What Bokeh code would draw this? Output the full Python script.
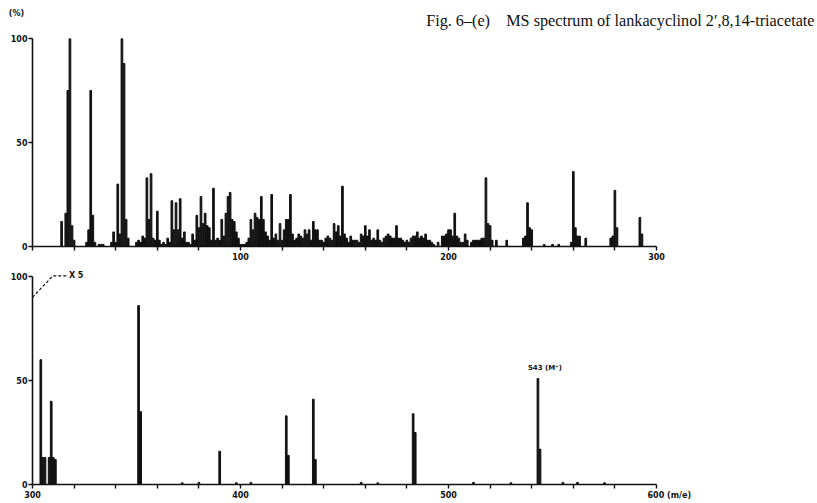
from bokeh.plotting import figure
from bokeh.layouts import column
from bokeh.models import FixedTicker, Label, Range1d
from bokeh.embed import file_html
from bokeh.resources import INLINE

# Low-mass range, m/z 0-300 (relative abundance, %)
low_mz = [14, 16, 17, 18, 19, 20, 26, 27, 28, 29, 30, 32, 33, 34,
          38, 39, 40, 41, 42, 43, 44, 45, 46,
          50, 51, 52, 53, 54, 55, 56, 57, 58, 59, 60, 61, 62, 63, 64, 65, 66,
          67, 68, 69, 70, 71, 72, 73, 74, 75, 76, 77, 78, 79, 80, 81, 82, 83,
          84, 85, 86, 87, 88, 89, 90, 91, 92, 93, 94, 95, 96, 97, 98, 99,
          100, 101, 102, 103, 104, 105, 106, 107, 108, 109, 110, 111, 112,
          113, 114, 115, 116, 117, 118, 119, 120, 121, 122, 123, 124, 125,
          126, 127, 128, 129, 130, 131, 132, 133, 134, 135, 136, 137, 138,
          139, 140, 141, 142, 143, 144, 145, 146, 147, 148, 149, 150, 151,
          152, 153, 154, 155, 156, 157, 158, 159, 160, 161, 162, 163, 164,
          165, 166, 167, 168, 169, 170, 171, 172, 173, 174, 175, 176, 177,
          178, 179, 180, 181, 182, 183, 184, 185, 186, 187, 188, 189, 190,
          191, 192, 193, 195, 197, 198, 199, 200, 201, 202, 203, 204, 205,
          206, 207, 208, 209, 211, 212, 213, 214, 215, 216, 217, 218, 219,
          220, 221, 223, 228, 236, 237, 238, 239, 240, 246, 250, 253,
          259, 260, 261, 262, 263, 266, 278, 279, 280, 281, 292, 293]
low_int = [12, 16, 75, 100, 10, 3, 2, 8, 75, 15, 2, 1, 1, 1,
           2, 7, 2, 30, 6, 100, 88, 13, 4,
           2, 3, 2, 5, 4, 33, 13, 35, 4, 3, 17, 3, 1, 2, 1, 4, 2,
           22, 8, 21, 8, 23, 4, 7, 2, 2, 1, 6, 3, 15, 9, 24, 11, 16,
           10, 9, 3, 28, 3, 4, 3, 13, 5, 16, 24, 26, 13, 12, 7, 4,
           1, 1, 1, 2, 4, 13, 8, 16, 14, 13, 24, 13, 7,
           5, 3, 25, 4, 6, 3, 11, 3, 8, 13, 13, 25, 6,
           3, 4, 6, 5, 4, 8, 6, 8, 3, 12, 8, 8, 3,
           3, 2, 4, 5, 4, 3, 11, 7, 10, 5, 29, 6, 4,
           2, 5, 3, 3, 3, 2, 6, 5, 10, 5, 8, 3, 4,
           3, 8, 3, 2, 4, 5, 6, 5, 4, 4, 10, 4, 4,
           3, 2, 3, 2, 4, 5, 5, 7, 4, 5, 4, 6, 3,
           3, 2, 1, 2, 5, 5, 6, 8, 8, 5, 16, 5, 4,
           2, 2, 6, 3, 2, 3, 3, 3, 3, 4, 4, 33, 11,
           10, 3, 3, 3, 4, 5, 21, 9, 8, 1, 1, 1,
           2, 36, 9, 5, 5, 4, 4, 5, 27, 9, 14, 6]

# High-mass range, m/z 300-600 (intensities expanded x5)
high_mz = [304, 305, 306, 308, 309, 310, 311, 351, 352, 372, 380, 390,
           398, 405, 422, 423, 435, 436, 458, 466, 483, 484, 512, 530,
           543, 544, 555, 562, 575]
high_int = [60, 13, 13, 13, 40, 13, 12, 86, 35, 0.8, 1, 16,
            0.8, 1, 33, 14, 41, 12, 1, 0.8, 34, 25, 1, 0.8,
            51, 17, 1, 1, 0.8]

molecular_ion = 543
title_text = "Fig. 6\u2013(e)\u2003MS spectrum of lankacyclinol 2\u2032,8,14-triacetate"

low_ticks = list(range(0, 301, 20))
high_ticks = list(range(300, 601, 20))
low_tick_labels = {t: (str(t) if t in (100, 200, 300) else "") for t in low_ticks}
high_tick_labels = {t: (str(t) if t % 100 == 0 else "") for t in high_ticks}
# the last label carries the m/e unit; leading em spaces keep "600" on its tick
high_tick_labels[600] = "\u2003\u2003\u2003\u2009600 (m/e)"

TICK_FONT = "DejaVu Sans"
INK = "#111111"


def style_panel(p, ticks, labels):
    p.xaxis.ticker = FixedTicker(ticks=ticks)
    p.xaxis.major_label_overrides = labels
    p.yaxis.ticker = FixedTicker(ticks=[0, 50, 100])
    p.yaxis.bounds = (0, 100)
    for ax in (p.xaxis[0], p.yaxis[0]):
        ax.axis_line_width = 1.6
        ax.axis_line_color = INK
        ax.major_tick_line_color = INK
        ax.major_tick_line_width = 1.4
        ax.major_tick_in = 0
        ax.major_tick_out = 4
        ax.minor_tick_line_color = None
        ax.major_label_text_font = TICK_FONT
        ax.major_label_text_font_size = "8px"
        ax.major_label_text_font_style = "bold"
        ax.major_label_text_color = INK
        ax.major_label_standoff = 2
    p.yaxis.major_label_standoff = 1
    p.xgrid.visible = False
    p.ygrid.visible = False
    p.outline_line_color = None
    p.background_fill_color = "white"
    p.border_fill_color = "white"


# header strip: unit label and figure caption, spanning the full page width
header = figure(width=817, height=30, x_range=Range1d(0, 817),
                y_range=Range1d(0, 30), min_border=0,
                x_axis_type=None, y_axis_type=None,
                output_backend="svg", toolbar_location=None)
header.frame_align = False
header.xgrid.visible = False
header.ygrid.visible = False
header.outline_line_color = None
header.add_layout(Label(x=814, y=10, text=title_text, text_align="right",
                        text_font="Liberation Serif", text_font_size="16.2px",
                        text_color=INK, text_baseline="alphabetic"))
header.add_layout(Label(x=16, y=17, text="(%)", text_align="center",
                        text_baseline="middle", text_font=TICK_FONT,
                        text_font_size="8px", text_font_style="bold",
                        text_color=INK))

top = figure(frame_width=624, frame_height=208,
             x_range=Range1d(0, 300), y_range=Range1d(0, 100),
             min_border_left=31, min_border_right=162,
             min_border_top=8, min_border_bottom=18,
             output_backend="svg", toolbar_location=None)
style_panel(top, low_ticks, low_tick_labels)
top.vbar(x=low_mz, top=low_int, width=0.8, color=INK)

# lower panel: frame reaches a little above 100 % to hold the x5 note
bottom = figure(frame_width=624, frame_height=220,
                x_range=Range1d(300, 600), y_range=Range1d(0, 105.77),
                min_border_left=32, min_border_right=161,
                min_border_top=0, min_border_bottom=19,
                output_backend="svg", toolbar_location=None)
style_panel(bottom, high_ticks, high_tick_labels)
bottom.vbar(x=high_mz, top=high_int, width=0.8, color=INK)

# leader for the x5 magnification note
bottom.line(x=[300, 309.8, 316.8], y=[90, 100.3, 100.3], line_dash="3 2",
            line_width=1.2, color=INK)
bottom.add_layout(Label(x=317.5, y=100.3, text="X 5", text_baseline="middle",
                        text_font=TICK_FONT, text_font_size="8px",
                        text_font_style="bold", text_color=INK))

m_idx = high_mz.index(molecular_ion)
bottom.add_layout(Label(x=molecular_ion, y=high_int[m_idx], x_offset=7,
                        y_offset=6, text=f"{molecular_ion} (M\u207a)",
                        text_align="center", text_baseline="bottom",
                        text_font=TICK_FONT, text_font_size="7px",
                        text_font_style="bold", text_color=INK))

page = column(header, top, bottom, spacing=0)
open("out.html", "w").write(file_html(page, INLINE))
